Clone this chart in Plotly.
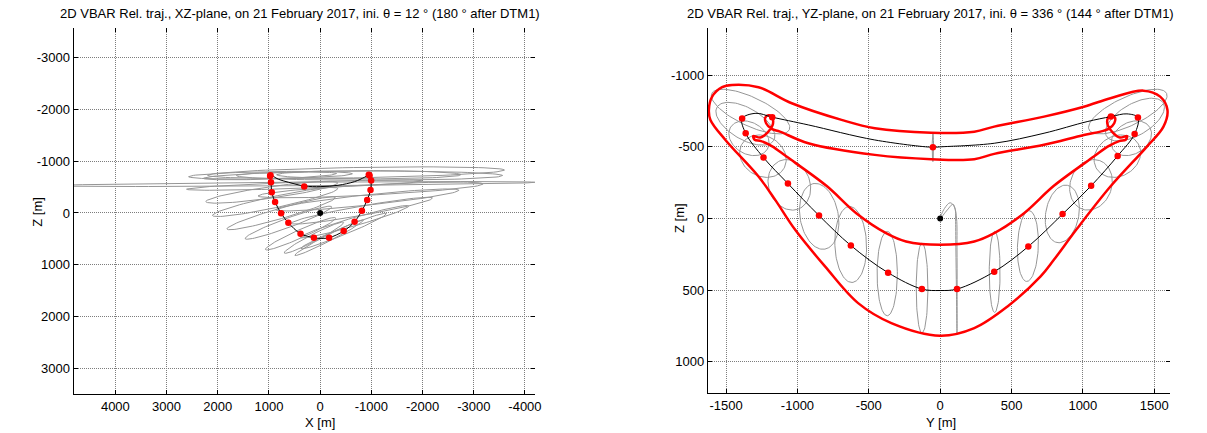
import numpy as np
import plotly.graph_objects as go

W, H = 1207, 433

# ---------------- Left panel (XZ-plane) ----------------
xz_traj_x = [-6, 311, 621, 816, 977, 985, 960, 945, 880, 763, 621, 383, 122, -20, -175, -460, -673, -816, -919, -984, -996, -965, -867, -673, -350, -6]
xz_traj_z = [-510, -523, -595, -653, -736, -700, -595, -401, -213, 6, 188, 401, 478, 491, 478, 349, 168, -45, -252, -446, -626, -743, -691, -607, -536, -510]

xz_dot_x = [977, 960, 945, 880, 763, 621, 383, 122, -175, -460, -673, -816, -919, -984, -996, -965, -950, 311, 970]
xz_dot_z = [-717, -595, -401, -213, 6, 188, 401, 478, 478, 349, 168, -45, -252, -446, -626, -723, -740, -510, -730]

# dispersion ellipses: centre X, centre Z, semi-major, semi-minor, tilt (deg)
xz_ell_x = [977, 500, 945, 880, 763, 621, 383, 122, -175, -460, -673, -816, -919, -984, -700, -965, -950, 311, 970]
xz_ell_z = [-717, -560, -401, -213, 6, 188, 401, 478, 478, 349, 168, -45, -252, -446, -780, -723, -740, -540, -730]
xz_ell_a = [1300, 4700, 1300, 1250, 1100, 900, 750, 650, 750, 900, 1100, 1400, 1800, 2200, 2900, 2600, 1800, 2300, 1600]
xz_ell_b = [60, 35, 110, 110, 100, 90, 80, 70, 60, 70, 80, 90, 100, 100, 100, 90, 80, 60, 70]
xz_ell_t = [2, 0.4, 8, 12, 16, 20, 24, 27, 27, 22, 16, 10, 6, 3, 1, 0, 0, 2, 1]

xz_ticks_x = [4000, 3000, 2000, 1000, 0, -1000, -2000, -3000, -4000]
xz_ticks_z = [-3000, -2000, -1000, 0, 1000, 2000, 3000]

# ---------------- Right panel (YZ-plane) ----------------
yz_traj_y = [0, -51, -458, -924, -1177, -1291, -1388, -1363, -1238, -1067, -849, -626, -365, -128, 0, 118, 379, 618, 858, 1058, 1244, 1363, 1386, 1309, 1197, 1030, 728, 379, 0]
yz_traj_z = [-500, -497, -548, -653, -707, -734, -697, -595, -425, -244, -21, 188, 378, 492, 502, 492, 371, 195, -31, -228, -437, -590, -704, -730, -711, -676, -595, -525, -500]

yz_dot_y = [-1388, -1363, -1238, -1067, -849, -626, -365, -128, 118, 379, 618, 858, 1058, 1244, 1363, 1386, 1197, -51, -1177]
yz_dot_z = [-697, -595, -425, -244, -21, 188, 378, 492, 492, 371, 195, -31, -228, -437, -590, -704, -711, -497, -707]

yz_outer_y = [-63, 239, 379, 728, 1007, 1193, 1425, 1542, 1593, 1565, 1449, 1193, 960, 797, 704, 472, 239, 0, -342, -575, -807, -1016, -1156, -1273, -1505, -1610, -1621, -1598, -1528, -1458, -1273, -1040, -691, -458, -63]
yz_outer_z = [-599, -606, -641, -711, -780, -839, -892, -850, -757, -641, -502, -223, 70, 288, 404, 613, 764, 817, 729, 590, 334, 79, -130, -293, -548, -688, -757, -850, -916, -932, -916, -804, -688, -630, -599]

yz_inner_y = [-63, 239, 379, 728, 1007, 1123, 1180, 1220, 1225, 1200, 1175, 1175, 1210, 1260, 1310, 1300, 1255, 1180, 1077, 797, 588, 379, 239, 0,
              -239, -379, -588, -797, -1077, -1180, -1255, -1300, -1310, -1260, -1210, -1175, -1175, -1200, -1225, -1220, -1180, -1123, -924, -458, -63]
yz_inner_z = [-414, -414, -451, -514, -583, -606, -625, -665, -705, -720, -700, -650, -600, -565, -575, -550, -540, -505, -432, -228, -37, 102, 160, 183,
              160, 102, -37, -228, -432, -505, -540, -550, -575, -565, -600, -650, -700, -720, -705, -665, -625, -606, -525, -444, -414]

yz_ell_y = [-1329, 1315, -1365, 1365, -1340, 1340, -1242, 1242, -1057, 1057, -848, 856, -627, 615, -371, 382, -127, -51]
yz_ell_z = [-746, -746, -661, -690, -560, -560, -435, -435, -235, -235, -15, -32, 181, 192, 384, 372, 485, -497]
yz_ell_a = [300, 300, 230, 230, 150, 150, 170, 170, 180, 180, 232, 203, 265, 247, 294, 283, 314, 100]
yz_ell_b = [100, 100, 110, 110, 110, 110, 140, 140, 145, 145, 134, 116, 111, 73, 71, 38, 41, 5]
yz_ell_t = [25, -25, 30, -30, 30, -30, 30, -30, 70, -70, 80, -80, 88, -88, 90, 90, 90, 90]

# thin dispersion loop starting at the target
yz_loop_y = [0, 30, 70, 100, 115, 118, 119, 118, 114, 110, 108, 106, 90, 50, 0]
yz_loop_z = [0, -70, -110, -80, 0, 200, 500, 800, 500, 200, 0, -60, -100, -60, 0]

yz_ticks_y = [-1500, -1000, -500, 0, 500, 1000, 1500]
yz_ticks_z = [-1000, -500, 0, 500, 1000]


def ellipses(cx, cz, a, b, t):
    xs, zs = [], []
    th = np.linspace(0, 2 * np.pi, 90)
    for x0, z0, aa, bb, tt in zip(cx, cz, a, b, t):
        r = np.deg2rad(tt)
        xs += list(x0 + aa * np.cos(th) * np.cos(r) - bb * np.sin(th) * np.sin(r)) + [None]
        zs += list(z0 + aa * np.cos(th) * np.sin(r) + bb * np.sin(th) * np.cos(r)) + [None]
    return xs, zs


GRAY = "rgb(150,150,150)"
RED = "rgb(255,0,0)"
FONT = "Liberation Sans, Arial, sans-serif"

fig = go.Figure()

# Left panel
ex, ez = ellipses(xz_ell_x, xz_ell_z, xz_ell_a, xz_ell_b, xz_ell_t)
fig.add_trace(go.Scatter(x=ex, y=ez, mode="lines", line=dict(color=GRAY, width=1), xaxis="x", yaxis="y", hoverinfo="skip"))
fig.add_trace(go.Scatter(x=xz_traj_x, y=xz_traj_z, mode="lines", line=dict(color="black", width=1, shape="spline"), xaxis="x", yaxis="y"))
fig.add_trace(go.Scatter(x=xz_dot_x, y=xz_dot_z, mode="markers", marker=dict(color=RED, size=6.5), xaxis="x", yaxis="y"))
fig.add_trace(go.Scatter(x=[0], y=[0], mode="markers", marker=dict(color="black", size=6), xaxis="x", yaxis="y"))

# Right panel
ey, ez2 = ellipses(yz_ell_y, yz_ell_z, yz_ell_a, yz_ell_b, yz_ell_t)
fig.add_trace(go.Scatter(x=ey, y=ez2, mode="lines", line=dict(color=GRAY, width=1), xaxis="x2", yaxis="y2", hoverinfo="skip"))
fig.add_trace(go.Scatter(x=yz_loop_y, y=yz_loop_z, mode="lines", line=dict(color=GRAY, width=1, shape="spline"), xaxis="x2", yaxis="y2"))
fig.add_trace(go.Scatter(x=yz_outer_y, y=yz_outer_z, mode="lines", line=dict(color=RED, width=2.5, shape="spline"), xaxis="x2", yaxis="y2"))
fig.add_trace(go.Scatter(x=yz_inner_y, y=yz_inner_z, mode="lines", line=dict(color=RED, width=2.5, shape="spline"), xaxis="x2", yaxis="y2"))
fig.add_trace(go.Scatter(x=yz_traj_y, y=yz_traj_z, mode="lines", line=dict(color="black", width=1, shape="spline"), xaxis="x2", yaxis="y2"))
fig.add_trace(go.Scatter(x=yz_dot_y, y=yz_dot_z, mode="markers", marker=dict(color=RED, size=6.5), xaxis="x2", yaxis="y2"))
fig.add_trace(go.Scatter(x=[0], y=[0], mode="markers", marker=dict(color="black", size=6), xaxis="x2", yaxis="y2"))

# invisible traces so mirror-tick axes get drawn
for xa, ya in (("x3", "y"), ("x", "y3"), ("x4", "y2"), ("x2", "y4")):
    fig.add_trace(go.Scatter(x=[None], y=[None], mode="markers", xaxis=xa, yaxis=ya, hoverinfo="skip"))

L = dict(x0=74, x1=538, y0=28, y1=394)
R = dict(x0=712, x1=1177, y0=28, y1=393)


def dom_x(b):
    return [b["x0"] / W, b["x1"] / W]


def dom_y(b):
    return [1 - b["y1"] / H, 1 - b["y0"] / H]


GRID = dict(showgrid=True, gridcolor="rgb(125,125,125)", gridwidth=1, griddash="1px,1px")
base = dict(ticks="inside", ticklen=4, tickcolor="black", tickwidth=1, zeroline=False,
            tickfont=dict(family=FONT, size=13, color="black"), fixedrange=True)

fig.update_layout(
    width=W, height=H, margin=dict(l=0, r=0, t=0, b=0),
    paper_bgcolor="white", plot_bgcolor="white", showlegend=False,
    xaxis=dict(domain=dom_x(L), range=[4816, -4194], anchor="y", tickmode="array", tickvals=xz_ticks_x,
               ticktext=[str(v) for v in xz_ticks_x], showline=True, linecolor="black", linewidth=1, **GRID, **base),
    yaxis=dict(domain=dom_y(L), range=[3501, -3578], anchor="x", tickmode="array", tickvals=xz_ticks_z,
               ticktext=[str(v) for v in xz_ticks_z], showline=True, linecolor="black", linewidth=1, **GRID, **base),
    xaxis3=dict(overlaying="x", side="top", anchor="y", range=[4816, -4194], tickmode="array", tickvals=xz_ticks_x,
                showticklabels=False, showgrid=False, showline=False, **base),
    yaxis3=dict(overlaying="y", side="right", anchor="x", range=[3501, -3578], tickmode="array", tickvals=xz_ticks_z,
                showticklabels=False, showgrid=False, showline=False, **base),
    xaxis2=dict(domain=dom_x(R), range=[-1628, 1612], anchor="y2", tickmode="array", tickvals=yz_ticks_y,
                ticktext=[str(v) for v in yz_ticks_y], showline=True, linecolor="black", linewidth=1, **GRID, **base),
    yaxis2=dict(domain=dom_y(R), range=[1217, -1329], anchor="x2", tickmode="array", tickvals=yz_ticks_z,
                ticktext=[str(v) for v in yz_ticks_z], showline=True, linecolor="black", linewidth=1, **GRID, **base),
    xaxis4=dict(overlaying="x2", side="top", anchor="y2", range=[-1628, 1612], tickmode="array", tickvals=yz_ticks_y,
                showticklabels=False, showgrid=False, showline=False, **base),
    yaxis4=dict(overlaying="y2", side="right", anchor="x2", range=[1217, -1329], tickmode="array", tickvals=yz_ticks_z,
                showticklabels=False, showgrid=False, showline=False, **base),
)

anns = [
    ("2D VBAR Rel. traj., XZ-plane, on 21 February 2017, ini. θ = 12 ° (180 ° after DTM1)", 302, 13, 0),
    ("2D VBAR Rel. traj., YZ-plane, on 21 February 2017, ini. θ = 336 ° (144 ° after DTM1)", 936, 13, 0),
    ("X [m]", 322, 422, 0),
    ("Y [m]", 946, 422, 0),
    ("Z [m]", 37, 212, -90),
    ("Z [m]", 683, 218, -90),
]
for txt, px, py, rot in anns:
    fig.add_annotation(text=txt, x=px / W, y=1 - py / H, xref="paper", yref="paper", showarrow=False,
                       xanchor="center", yanchor="middle", textangle=rot,
                       font=dict(family=FONT, size=13, color="black"))

fig.write_html("out.html")
